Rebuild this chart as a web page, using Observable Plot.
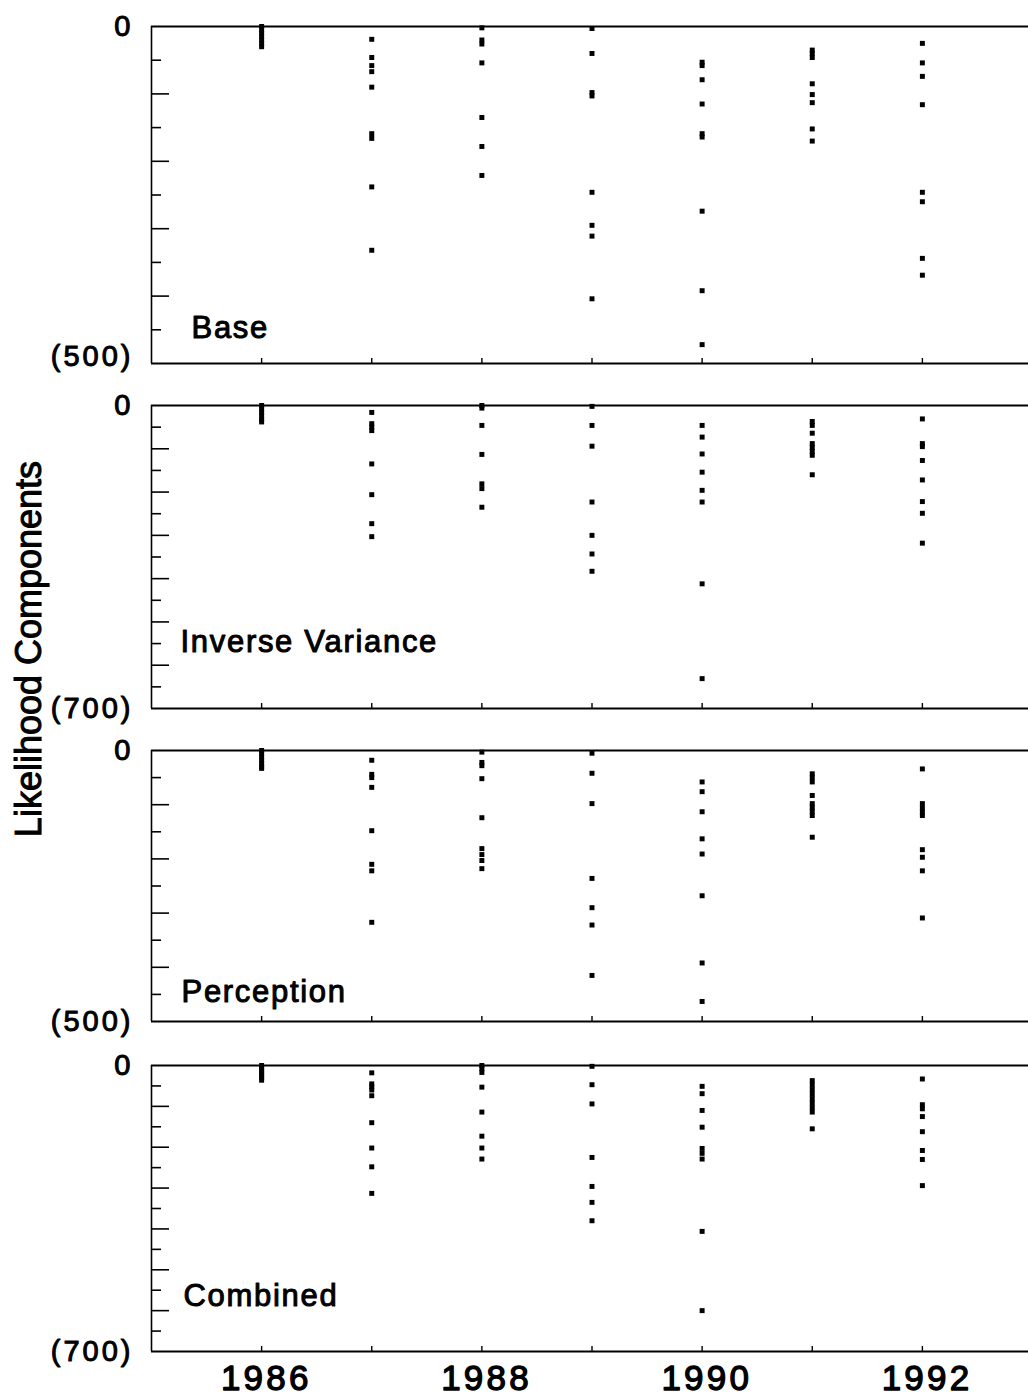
<!DOCTYPE html>
<html>
<head>
<meta charset="utf-8">
<script src="https://cdn.jsdelivr.net/npm/d3@7"></script>
<script src="https://cdn.jsdelivr.net/npm/@observablehq/plot@0.6"></script>
<style>
  html, body { margin: 0; padding: 0; background: #fff; }
  #wrap { position: relative; width: 1028px; height: 1397px; overflow: hidden; background: #fff; }
  svg.panel { position: absolute; left: 0; max-width: none !important; }
  #ytitle {
    position: absolute; left: 29px; top: 649px;
    transform: translate(-50%, -50%) rotate(-90deg);
    font: 36px "Liberation Sans", Arial, sans-serif; line-height: 1;
    white-space: nowrap; color: #000; -webkit-text-stroke: 1px #000;
  }
</style>
</head>
<body>
<div id="wrap">
  <div id="ytitle">Likelihood Components</div>
</div>
<script>
// ---- data (negative likelihood components) ----
const years = [1986, 1987, 1988, 1989, 1990, 1991, 1992];
const xTickLabels = [1986, 1988, 1990, 1992];
const panelNames = ["Base", "Inverse Variance", "Perception", "Combined"];
const yMins = [-500, -700, -500, -700];
const yBottomLabels = ["(500)", "(700)", "(500)", "(700)"];

const base = [
  [0, -5, -10, -15, -20, -25, -30],
  [-19, -46, -58, -67, -90, -159, -166, -238, -332],
  [-2, -20, -26, -54, -135, -178, -221],
  [-3, -40, -98, -103, -246, -295, -311, -404],
  [-53, -58, -79, -115, -159, -164, -274, -392, -472],
  [-35, -40, -46, -85, -101, -113, -152, -170],
  [-25, -54, -74, -116, -246, -260, -344, -369]
];
const inverseVariance = [
  [0, -8, -16, -24, -32, -38],
  [-16, -42, -50, -58, -135, -206, -273, -303],
  [0, -6, -46, -113, -181, -192, -235],
  [-2, -46, -94, -223, -300, -343, -383],
  [-46, -73, -112, -154, -196, -223, -412, -631],
  [-37, -46, -64, -88, -97, -106, -115, -160],
  [-31, -88, -95, -127, -172, -222, -249, -318]
];
const perception = [
  [0, -6, -12, -18, -24, -30, -33],
  [-18, -44, -50, -68, -148, -210, -222, -317],
  [-3, -22, -28, -52, -124, -181, -192, -203, -218],
  [-5, -42, -98, -236, -290, -322, -415],
  [-58, -76, -113, -163, -191, -268, -392, -463],
  [-43, -50, -58, -83, -98, -105, -112, -120, -160],
  [-34, -98, -106, -113, -120, -183, -197, -222, -309]
];
const combined = [
  [0, -6, -12, -18, -24, -30, -36],
  [-18, -45, -52, -60, -74, -140, -202, -248, -313],
  [0, -8, -17, -53, -114, -173, -202, -229],
  [-2, -47, -94, -225, -296, -335, -380],
  [-51, -69, -110, -151, -203, -215, -229, -406, -600],
  [-37, -48, -59, -70, -81, -92, -103, -114, -155],
  [-33, -96, -106, -125, -162, -208, -230, -294]
];
const series = [base, inverseVariance, perception, combined];

// ---- layout (pixel geometry of each panel) ----
const layout = [
  {top: 26,   h: 337, labelDx: 40, labelDy: -26, botDy: -7},
  {top: 405,  h: 303, labelDx: 29, labelDy: -57, botDy: 0},
  {top: 750,  h: 271, labelDx: 30, labelDy: -20, botDy: 0},
  {top: 1065, h: 286, labelDx: 32, labelDy: -46, botDy: 0}
];
const W = 1040, ML = 151, MR = 8, MT = 20;
const innerW = W - ML - MR;
const font = "Liberation Sans, Arial, Helvetica, sans-serif";
const spacing = {y: 3, name: 1.7, x: 3.2};

const wrap = document.getElementById("wrap");

series.forEach((arr, p) => {
  const L = layout[p];
  const ymin = yMins[p];
  const isLast = p === series.length - 1;
  const MB = isLast ? 60 : 20;
  const pts = years.flatMap((yr, i) => arr[i].map(v => ({year: yr, value: v})));
  const majors = d3.range(-100, ymin, -100);
  const minors = d3.range(-50, ymin, -100);

  const marks = [
    // frame: top, bottom, left
    Plot.ruleY([0], {stroke: "black", strokeWidth: 2}),
    Plot.ruleY([ymin], {stroke: "black", strokeWidth: 2}),
    Plot.ruleX([1985], {stroke: "black", strokeWidth: 1.6}),
    // inward y ticks
    Plot.tickY(majors, {y: d => d, insetRight: innerW - 18, stroke: "black", strokeWidth: 1.6}),
    Plot.tickY(minors, {y: d => d, insetRight: innerW - 10, stroke: "black", strokeWidth: 1.6}),
    // inward x ticks at each year on the bottom line
    Plot.tickX(years, {x: d => d, insetTop: L.h - 5, stroke: "black", strokeWidth: 1.4}),
    // y labels
    Plot.text([{v: 0, t: "0"}, {v: ymin, t: yBottomLabels[p]}], {
      y: "v", text: "t", frameAnchor: "left", dx: -21 + spacing.y,
      textAnchor: "end", lineAnchor: "middle", fontSize: 29, fontFamily: font,
      fill: "black", stroke: "black", strokeWidth: 1
    }),
    // panel name
    Plot.text([panelNames[p]], {
      text: d => d, frameAnchor: "bottom-left", dx: L.labelDx, dy: L.labelDy,
      textAnchor: "start", lineAnchor: "bottom", fontSize: 31, fontFamily: font,
      fill: "black", stroke: "black", strokeWidth: 1
    }),
    // points
    Plot.dot(pts, {x: "year", y: "value", symbol: "square", r: 2.8, fill: "black", stroke: "none"})
  ];
  if (isLast) {
    marks.push(Plot.text(xTickLabels, {
      x: d => d, text: d => String(d), frameAnchor: "bottom", dy: 14, dx: 3 + spacing.x / 2,
      lineAnchor: "top", textAnchor: "middle", fontSize: 35, fontFamily: font,
      fill: "black", stroke: "black", strokeWidth: 1.3
    }));
  }

  const chart = Plot.plot({
    width: W,
    height: L.h + MT + MB,
    marginLeft: ML, marginRight: MR, marginTop: MT, marginBottom: MB,
    style: {fontFamily: font, background: "transparent", overflow: "visible"},
    x: {domain: [1985, 1993], axis: null},
    y: {domain: [ymin, 0], axis: null},
    marks
  });
  chart.classList.add("panel");
  chart.style.top = (L.top - MT) + "px";
  chart.style.maxWidth = "none";

  // letter spacing for the wide, scanned-looking type
  chart.querySelectorAll("text").forEach(t => {
    const s = t.textContent;
    if (xTickLabels.map(String).includes(s)) t.style.letterSpacing = spacing.x + "px";
    else if (panelNames.includes(s)) t.style.letterSpacing = spacing.name + "px";
    else if (s === "0" || yBottomLabels.includes(s)) {
      t.style.letterSpacing = spacing.y + "px";
      if (s !== "0" && L.botDy) {
        const tr = t.getAttribute("transform") || "";
        t.setAttribute("transform", tr + ` translate(0,${L.botDy})`);
      }
    }
  });
  wrap.appendChild(chart);
});
</script>
</body>
</html>
